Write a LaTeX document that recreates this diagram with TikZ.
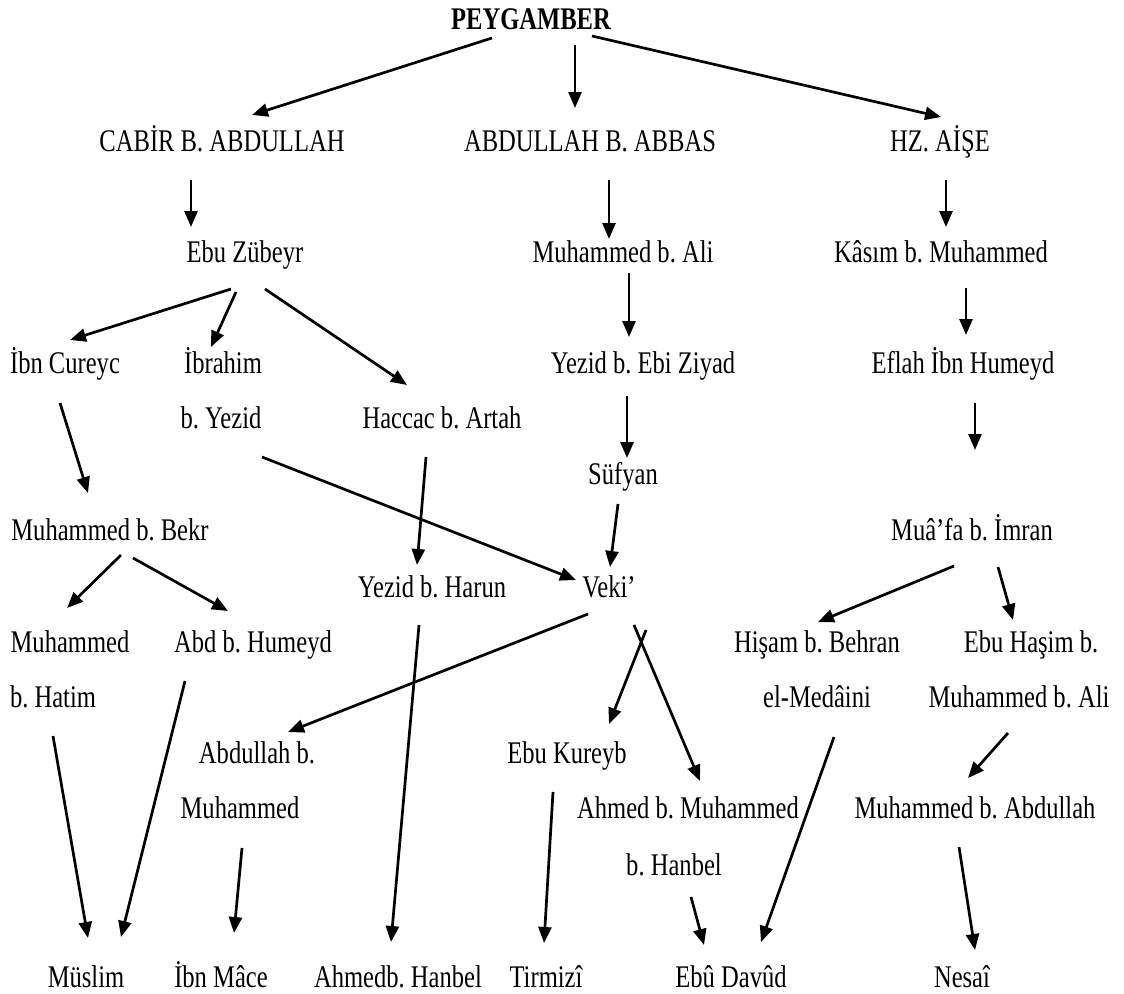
\documentclass[tikz,border=0pt]{standalone}
\usepackage{fontspec}
\setmainfont{Liberation Serif}[FakeStretch=0.78]
\usetikzlibrary{arrows.meta,calc}
\frenchspacing
\newcommand\conn[4]{\draw[arr] ($(#1.base)+(#2)$) -- ($(#3.base)+(#4)$);}
\begin{document}
\begin{tikzpicture}[x=1pt,y=-1pt,
  lbl/.style={inner sep=0pt,anchor=base,font=\fontsize{31.5}{37}\selectfont\frenchspacing},
  arr/.style={line width=2.7pt,-{Triangle[length=16pt,width=13pt]}}]
\fill[white] (0,0) rectangle (1124,993);
\useasboundingbox (0,0) rectangle (1124,993);
% row 0
\node[lbl,font=\fontsize{31.5}{37}\selectfont\bfseries] (peyg) at (531,29) {PEYGAMBER};
% row 1
\node[lbl] (cabir) at (222,151) {CABİR B. ABDULLAH};
\node[lbl] (abbas) at (590,151) {ABDULLAH B. ABBAS};
\node[lbl] (aise) at (940,151) {HZ. AİŞE};
% row 2
\node[lbl] (zubeyr) at (245,262) {Ebu Zübeyr};
\node[lbl] (mali) at (623,262) {Muhammed b. Ali};
\node[lbl] (kasim) at (941,262) {Kâsım b. Muhammed};
% row 3
\node[lbl] (cureyc) at (65,373) {İbn Cureyc};
\node[lbl] (ibrahim) at (223,373) {İbrahim};
\node[lbl] (ziyad) at (643,373) {Yezid b. Ebi Ziyad};
\node[lbl] (eflah) at (963,373) {Eflah İbn Humeyd};
\node[lbl] (byezid) at (221,428) {b. Yezid};
\node[lbl] (haccac) at (442,428) {Haccac b. Artah};
\node[lbl] (sufyan) at (623,484) {Süfyan};
\node[lbl] (bekr) at (110,540) {Muhammed b. Bekr};
\node[lbl] (muafa) at (972,540) {Muâ’fa b. İmran};
\node[lbl] (harun) at (432,597) {Yezid b. Harun};
\node[lbl] (veki) at (609,597) {Veki’};
\node[lbl] (hatimA) at (70,652) {Muhammed};
\node[lbl] (humeyd) at (253,652) {Abd b. Humeyd};
\node[lbl] (hisamA) at (817,652) {Hişam b. Behran};
\node[lbl] (hasimA) at (1031,652) {Ebu Haşim b.};
\node[lbl] (hatimB) at (53,707) {b. Hatim};
\node[lbl] (hisamB) at (817,707) {el-Medâini};
\node[lbl] (hasimB) at (1019,707) {Muhammed b. Ali};
\node[lbl] (abdA) at (257,763) {Abdullah b.};
\node[lbl] (kureyb) at (567,763) {Ebu Kureyb};
\node[lbl] (abdB) at (240,818) {Muhammed};
\node[lbl] (ahmedA) at (688,818) {Ahmed b. Muhammed};
\node[lbl] (abdullah) at (975,818) {Muhammed b. Abdullah};
\node[lbl] (ahmedB) at (674,875) {b. Hanbel};
% bottom row
\node[lbl] (muslim) at (86,987) {Müslim};
\node[lbl] (mace) at (221,987) {İbn Mâce};
\node[lbl] (hanbel) at (398,987) {Ahmedb. Hanbel};
\node[lbl] (tirmizi) at (546,987) {Tirmizî};
\node[lbl] (davud) at (731,987) {Ebû Davûd};
\node[lbl] (nesai) at (962,987) {Nesaî};
% connectors
\conn{peyg}{-39,9}{cabir}{30,-36}
\conn{peyg}{44,16}{abbas}{-15,-43}
\conn{peyg}{61,7}{aise}{1,-34}
\conn{cabir}{-31,29}{zubeyr}{-54,-35}
\conn{abbas}{19,29}{mali}{-14,-23}
\conn{aise}{6,29}{kasim}{5,-35}
\conn{zubeyr}{-14,27}{cureyc}{5,-33}
\conn{zubeyr}{-9,30}{ibrahim}{-12,-26}
\conn{zubeyr}{20,27}{haccac}{-35,-43}
\conn{mali}{6,11}{ziyad}{-14,-36}
\conn{kasim}{25,26}{eflah}{3,-38}
\conn{cureyc}{-5,30}{bekr}{-22,-47}
\conn{byezid}{41,29}{veki}{-33,-17}
\conn{haccac}{-16,29}{harun}{-15,-32}
\conn{ziyad}{-16,23}{sufyan}{4,-26}
\conn{eflah}{12,30}{muafa}{3,-90}
\conn{sufyan}{-5,20}{veki}{1,-30}
\conn{bekr}{11,15}{hatimA}{-3,-44}
\conn{bekr}{23,18}{humeyd}{-25,-41}
\conn{muafa}{-18,26}{hisamA}{1,-30}
\conn{muafa}{26,27}{hasimA}{-18,-32}
\conn{veki}{-21,17}{abdA}{31,-31}
\conn{veki}{25,28}{ahmedA}{12,-37}
\conn{veki}{37,33}{kureyb}{42,-39}
\conn{hasimB}{-11,26}{abdullah}{-7,-40}
\conn{hatimB}{0,29}{muslim}{2,-49}
\conn{humeyd}{-68,29}{muslim}{35,-50}
\conn{abdB}{2,30}{mace}{13,-54}
\conn{harun}{-13,28}{hanbel}{-7,-45}
\conn{kureyb}{-14,29}{tirmizi}{-2,-44}
\conn{ahmedB}{17,22}{davud}{-27,-42}
\conn{hisamB}{17,30}{davud}{30,-45}
\conn{abdullah}{-16,29}{nesai}{13,-37}
\end{tikzpicture}
\end{document}
